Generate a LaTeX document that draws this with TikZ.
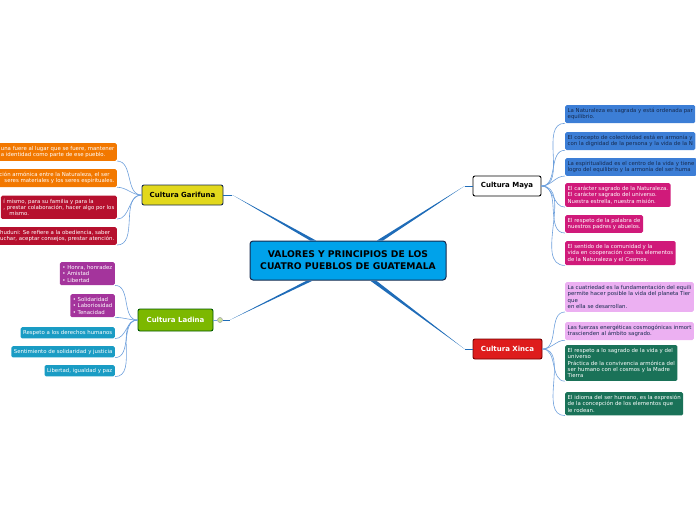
\documentclass[tikz,border=0pt]{standalone}
\usepackage{fontspec}
\setmainfont{DejaVu Sans}
\usepackage{tikz}
\definecolor{centreblue}{RGB}{0,162,234}
\definecolor{navyline}{RGB}{22,42,78}
\definecolor{trunkblue}{RGB}{31,108,184}
\definecolor{twigblue}{RGB}{110,160,220}
\definecolor{garyellow}{RGB}{226,216,28}
\definecolor{ladgreen}{RGB}{124,184,0}
\definecolor{xinred}{RGB}{222,28,28}
\definecolor{leaforange}{RGB}{242,120,0}
\definecolor{leafcrimson}{RGB}{182,16,46}
\definecolor{leafpurple}{RGB}{164,52,156}
\definecolor{leafteal}{RGB}{26,156,196}
\definecolor{leafblue}{RGB}{60,126,214}
\definecolor{leafmagenta}{RGB}{208,26,122}
\definecolor{leafviolet}{RGB}{236,176,242}
\definecolor{leafgreen}{RGB}{26,114,88}
\newcommand{\leaffont}{\fontsize{5.4}{6.4}\selectfont}
\tikzset{
	leaf/.style={rounded corners=1.5pt,inner xsep=2.5pt,inner ysep=3pt,align=left,font=\leaffont},
	leafL/.style={leaf,anchor=north east},
	leafR/.style={leaf,anchor=north west},
	branch/.style={draw,rounded corners=2pt,line width=0.9pt,inner sep=0pt,minimum height=20pt,font=\fontsize{7}{8}\selectfont\bfseries},
	twig/.style={twigblue,line width=0.6pt},
	trunk/.style={trunkblue,line width=0.9pt}
}

\begin{document}
\begin{tikzpicture}[x=1pt,y=-1pt]
			\useasboundingbox (0,0) rectangle (696,520);
			\coordinate (c_centre) at (348,260.5);
			\coordinate (c_garifuna) at (182.5,195);
			\coordinate (c_ladina) at (175.5,320);
			\coordinate (c_maya) at (507,186);
			\coordinate (c_xinca) at (507.5,349);
			\node[draw=navyline,fill=centreblue,rounded corners=3pt,line width=1pt,minimum width=196pt,minimum height=39pt,align=center,font=\fontsize{9.2}{12}\selectfont\bfseries] (centre) at (c_centre) {VALORES Y PRINCIPIOS DE LOS\\CUATRO PUEBLOS DE GUATEMALA};
			\node[branch,draw=navyline,fill=garyellow,minimum width=81pt] (garifuna) at (c_garifuna) {Cultura Garifuna};
			\node[branch,draw=green!35!black,fill=ladgreen,minimum width=75pt,minimum height=22pt,text=white] (ladina) at (c_ladina) {Cultura Ladina};
			\node[branch,draw=black,fill=white,minimum width=68pt] (maya) at (c_maya) {Cultura Maya};
			\node[branch,draw=red!45!black,fill=xinred,minimum width=69pt,text=white] (xinca) at (c_xinca) {Cultura Xinca};
			\node[circle,draw=gray!70,fill=ladgreen!40,line width=0.6pt,inner sep=0pt,minimum size=5pt] (ladinaknob) at (220,320) {};
			% Garifuna
			\node[leafL,fill=leaforange,text=white] (g1) at (117,143) {una fuere al lugar que se fuere, mantener\\a identidad como parte de ese pueblo.};
			\node[leafL,fill=leaforange,text=white] (g2) at (117,169) {ción armónica entre la Naturaleza, el ser\\\hspace*{5pt}seres materiales y los seres espirituales.};
			\node[leafL,fill=leafcrimson,text=white] (g3) at (117,195.5) {í mismo, para su familia y para la\\, prestar colaboración, hacer algo por los\\\hspace*{6pt}mismo.};
			\node[leafL,fill=leafcrimson,text=white] (g4) at (117,227) {huduni: Se refiere a la obediencia, saber\\uchar, aceptar consejos, prestar atención.};
			% Ladina
			\node[leafL,fill=leafpurple,text=white] (l1) at (115,262) {• Honra, honradez\\• Amistad\\• Libertad};
			\node[leafL,fill=leafpurple,text=white] (l2) at (115,294) {• Solidaridad\\• Laboriosidad\\• Tenacidad};
			\node[leafL,fill=leafteal,text=white] (l3) at (115,327) {Respeto a los derechos humanos};
			\node[leafL,fill=leafteal,text=white] (l4) at (115,346) {Sentimiento de solidaridad y justicia};
			\node[leafL,fill=leafteal,text=white] (l5) at (115,365) {Libertad, igualdad y paz};
			% Maya
			\node[leafR,fill=leafblue,text=navyline] (m1) at (565,105) {La Naturaleza es sagrada y está ordenada par\\equilibrio.};
			\node[leafR,fill=leafblue,text=navyline] (m2) at (565,132) {El concepto de colectividad está en armonía y\\con la dignidad de la persona y la vida de la N};
			\node[leafR,fill=leafblue,text=navyline] (m3) at (565,158) {La espiritualidad es el centro de la vida y tiene\\logro del equilibrio y la armonía del ser huma};
			\node[leafR,fill=leafmagenta,text=white] (m4) at (565,183) {El carácter sagrado de la Naturaleza.\\El carácter sagrado del universo.\\Nuestra estrella, nuestra misión.};
			\node[leafR,fill=leafmagenta,text=white] (m5) at (565,215) {El respeto de la palabra de\\nuestros padres y abuelos.};
			\node[leafR,fill=leafmagenta,text=white] (m6) at (565,241) {El sentido de la comunidad y la\\vida en cooperación con los elementos\\de la Naturaleza y el Cosmos.};
			% Xinca
			\node[leafR,fill=leafviolet,text=navyline] (x1) at (565,282) {La cuatriedad es la fundamentación del equili\\permite hacer posible la vida del planeta Tier\\que\\en ella se desarrollan.};
			\node[leafR,fill=leafviolet,text=navyline] (x2) at (565,322) {Las fuerzas energéticas cosmogónicas inmort\\trascienden al ámbito sagrado.};
			\node[leafR,fill=leafgreen,text=white] (x3) at (565,345) {El respeto a lo sagrado de la vida y del\\universo\\Práctica de la convivencia armónica del\\ser humano con el cosmos y la Madre\\Tierra};
			\node[leafR,fill=leafgreen,text=white] (x4) at (565,392) {El idioma del ser humano, es la expresión\\de la concepción de los elementos que\\le rodean.};
			% trunks, tapering away from the centre
			\coordinate (bend_g) at ([xshift=9pt]garifuna.east);
			\coordinate (bend_m) at ([xshift=-8pt]maya.west);
			\coordinate (bend_x) at ([xshift=-8pt]xinca.west);
			\coordinate (bend_l) at ([xshift=7pt]ladinaknob.east);
			\fill[trunkblue] ([xshift=-38pt]centre.north) -- ([xshift=-32pt]centre.north) -- (bend_g) -- cycle;
			\fill[trunkblue] ([xshift=29pt]centre.north) -- ([xshift=35pt]centre.north) -- (bend_m) -- cycle;
			\fill[trunkblue] ([xshift=22pt]centre.south) -- ([xshift=28pt]centre.south) -- (bend_x) -- cycle;
			\fill[trunkblue] ([xshift=-41pt]centre.south) -- ([xshift=-35pt]centre.south) -- (bend_l) -- cycle;
			\draw[trunk] (bend_g) -- (garifuna.east);
			\draw[trunk] (bend_m) -- (maya.west);
			\draw[trunk] (bend_x) -- (xinca.west);
			\draw[trunk] (bend_l) -- (ladinaknob.east);
			\draw[twig] (ladinaknob.west) -- (ladina.east);
			% twigs to the leaves
			\foreach \leaf in {g1,g2,g3,g4}
				\draw[twig] (garifuna.west) to[out=180,in=0] (\leaf.south east);
			\foreach \leaf in {l1,l2,l3,l4,l5}
				\draw[twig] (ladina.west) to[out=180,in=0] (\leaf.south east);
			\foreach \leaf in {m1,m2,m3,m4,m5,m6}
				\draw[twig] (maya.east) to[out=0,in=180] (\leaf.south west);
			\foreach \leaf in {x1,x2,x3,x4}
				\draw[twig] (xinca.east) to[out=0,in=180] (\leaf.south west);
\end{tikzpicture}
\end{document}
